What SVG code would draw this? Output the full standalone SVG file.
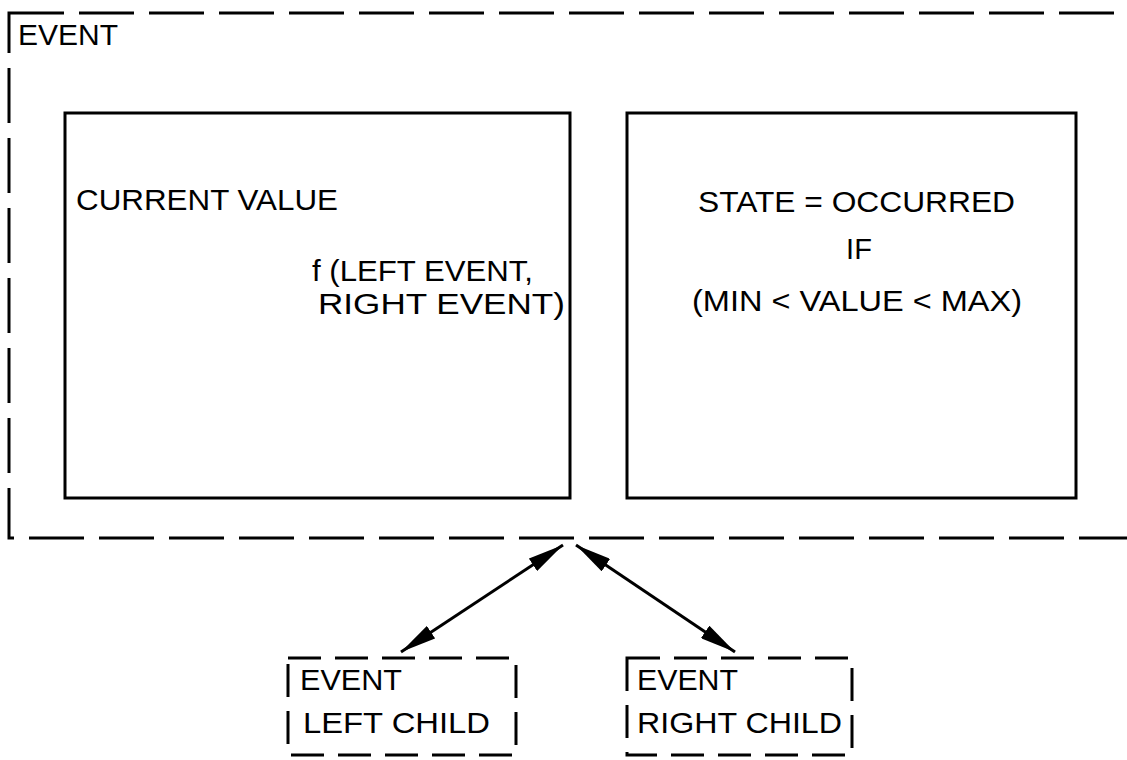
<svg xmlns="http://www.w3.org/2000/svg" width="1127" height="760" viewBox="0 0 1127 760">
<defs>
<style>
.t{font-family:"Liberation Sans",Arial,sans-serif;font-size:29px;fill:#000}
.solid{fill:none;stroke:#000;stroke-width:3}
.outer{fill:none;stroke:#000;stroke-width:3;stroke-dasharray:55 15}
.child{fill:none;stroke:#000;stroke-width:3;stroke-dasharray:33 14}
.conn{stroke:#000;stroke-width:3;fill:none}
</style>
<marker id="ah" viewBox="0 0 12 5" refX="12" refY="2.5" markerWidth="12" markerHeight="5" markerUnits="strokeWidth" orient="auto-start-reverse">
<path d="M0,0 L12,2.5 L0,5 Z" fill="#000"/>
</marker>
</defs>
<rect width="1127" height="760" fill="#fff"/>
<g id="event">
<rect class="outer" x="9" y="13" width="1140" height="525"/>
<text class="t" x="18" y="45" textLength="100" lengthAdjust="spacingAndGlyphs">EVENT</text>
</g>
<g id="current-value">
<rect class="solid" x="65" y="113" width="505" height="385"/>
<text class="t" x="76" y="210" textLength="262" lengthAdjust="spacingAndGlyphs">CURRENT VALUE</text>
<text class="t" x="312" y="281" textLength="221" lengthAdjust="spacingAndGlyphs">f (LEFT EVENT,</text>
<text class="t" x="318" y="314" textLength="247" lengthAdjust="spacingAndGlyphs">RIGHT EVENT)</text>
</g>
<g id="state">
<rect class="solid" x="627" y="113" width="449" height="385"/>
<text class="t" x="698" y="212" textLength="317" lengthAdjust="spacingAndGlyphs">STATE = OCCURRED</text>
<text class="t" x="859" y="259" text-anchor="middle">IF</text>
<text class="t" x="692" y="311" textLength="330" lengthAdjust="spacingAndGlyphs">(MIN &lt; VALUE &lt; MAX)</text>
</g>
<g id="left-child">
<rect class="child" x="288" y="658" width="228" height="97"/>
<text class="t" x="300" y="690" textLength="102" lengthAdjust="spacingAndGlyphs">EVENT</text>
<text class="t" x="303" y="733" textLength="187" lengthAdjust="spacingAndGlyphs">LEFT CHILD</text>
</g>
<g id="right-child">
<rect class="child" x="627" y="658" width="225" height="97"/>
<text class="t" x="637" y="690" textLength="101" lengthAdjust="spacingAndGlyphs">EVENT</text>
<text class="t" x="637" y="733" textLength="205" lengthAdjust="spacingAndGlyphs">RIGHT CHILD</text>
</g>
<g id="connectors">
<line class="conn" x1="563" y1="545" x2="401" y2="652" marker-start="url(#ah)" marker-end="url(#ah)"/>
<line class="conn" x1="576" y1="545" x2="735" y2="652" marker-start="url(#ah)" marker-end="url(#ah)"/>
</g>
</svg>
